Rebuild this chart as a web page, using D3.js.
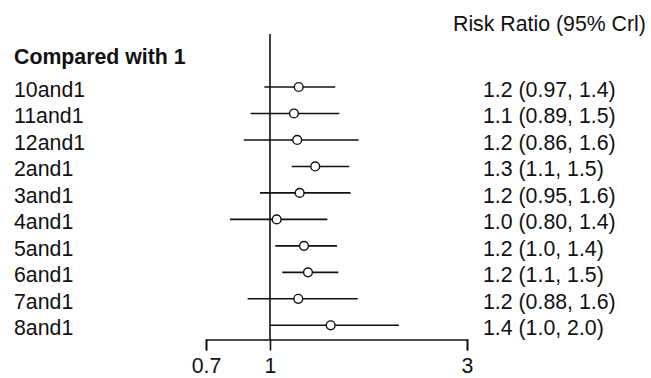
<!DOCTYPE html>
<html>
<head>
<meta charset="utf-8">
<script src="https://cdn.jsdelivr.net/npm/d3@7"></script>
<style>
  html, body { margin: 0; padding: 0; background: #fff; }
  svg { display: block; }
</style>
</head>
<body>
<svg id="chart" width="651" height="378"></svg>
<script>
const groupTitle = "Compared with 1";
const columnTitle = "Risk Ratio (95% Crl)";
const comparisons = ["10and1","11and1","12and1","2and1","3and1","4and1","5and1","6and1","7and1","8and1"];
const estimates = [1.174, 1.143, 1.164, 1.287, 1.180, 1.038, 1.209, 1.236, 1.171, 1.403];
const lowers    = [0.969, 0.898, 0.864, 1.129, 0.946, 0.800, 1.030, 1.071, 0.883, 1.000];
const uppers    = [1.439, 1.472, 1.640, 1.556, 1.568, 1.377, 1.453, 1.464, 1.631, 2.053];
const labelsCI  = ["1.2 (0.97, 1.4)","1.1 (0.89, 1.5)","1.2 (0.86, 1.6)","1.3 (1.1, 1.5)","1.2 (0.95, 1.6)",
                   "1.0 (0.80, 1.4)","1.2 (1.0, 1.4)","1.2 (1.1, 1.5)","1.2 (0.88, 1.6)","1.4 (1.0, 2.0)"];
const tickValues = [0.7, 1, 3];
const tickLabels = ["0.7", "1", "3"];

const svg = d3.select("#chart");
const font = "'Liberation Sans', Arial, sans-serif";
const fs = "21.3px";
const ink = "#111";

const x = d3.scaleLog().domain([0.7, 3]).range([206, 467]);
const y = d3.scalePoint().domain(comparisons).range([87, 325.3]);
const axisY = 339.5;

// reference line at 1
svg.append("line")
  .attr("x1", x(1)).attr("x2", x(1))
  .attr("y1", 34).attr("y2", axisY)
  .attr("stroke", ink).attr("stroke-width", 1.6);

// axis
const axis = d3.axisBottom(x)
  .tickValues(tickValues)
  .tickFormat((d, i) => tickLabels[i])
  .tickSize(11).tickSizeOuter(11).tickPadding(7);
const gAxis = svg.append("g").attr("transform", `translate(0,${axisY})`).call(axis);
gAxis.selectAll("path,line").attr("stroke", ink).attr("stroke-width", 1.6);
gAxis.selectAll("text").attr("font-family", font).attr("font-size", fs).attr("fill", ink);

// CI lines
svg.append("g").selectAll("line").data(comparisons).join("line")
  .attr("x1", (d, i) => x(lowers[i]))
  .attr("x2", (d, i) => x(uppers[i]))
  .attr("y1", d => y(d)).attr("y2", d => y(d))
  .attr("stroke", ink).attr("stroke-width", 1.6);

// points
svg.append("g").selectAll("circle").data(comparisons).join("circle")
  .attr("cx", (d, i) => x(estimates[i]))
  .attr("cy", d => y(d))
  .attr("r", 4.4)
  .attr("fill", "#fff").attr("stroke", ink).attr("stroke-width", 1.4);

// left labels
svg.append("text")
  .attr("x", 14).attr("y", 64)
  .attr("font-family", font).attr("font-size", fs).attr("font-weight", "bold").attr("fill", ink)
  .text(groupTitle);
svg.append("g").selectAll("text").data(comparisons).join("text")
  .attr("x", 14).attr("y", d => y(d) + 10)
  .attr("font-family", font).attr("font-size", fs).attr("fill", ink)
  .text(d => d);

// right labels
svg.append("text")
  .attr("x", 453).attr("y", 31)
  .attr("font-family", font).attr("font-size", fs).attr("fill", ink)
  .text(columnTitle);
svg.append("g").selectAll("text").data(comparisons).join("text")
  .attr("x", 483).attr("y", d => y(d) + 10)
  .attr("font-family", font).attr("font-size", fs).attr("fill", ink)
  .text((d, i) => labelsCI[i]);
</script>
</body>
</html>
